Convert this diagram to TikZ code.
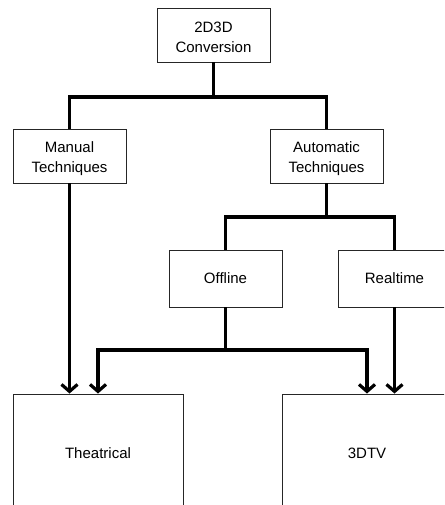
\documentclass[tikz,border=0pt]{standalone}
\usepackage{fontspec}
\setmainfont{Liberation Sans}
\usetikzlibrary{arrows.meta}
\begin{document}
\begin{tikzpicture}[x=1pt,y=-1pt,
  box/.style={draw=black!85, line width=0.9pt, fill=white, inner sep=0pt,
    align=center, font=\fontsize{15}{20}\selectfont},
  small/.style={box, minimum width=113pt, minimum height=54pt},
  mid/.style={box, minimum width=113pt, minimum height=57pt},
  big/.style={box, minimum width=170pt, minimum height=118pt},
  txt/.style={inner sep=0pt, align=center, font=\fontsize{15}{20}\selectfont},
  link/.style={line width=3.6pt, line cap=butt, line join=miter},
  tip/.style={link, -{Straight Barb[length=7pt,width=16pt,line width=3.2pt]}}]
  \useasboundingbox (0,0) rectangle (444,505);
  \clip (0,0) rectangle (444,505);

  % boxes
  \node[small] (conv) at (213.5,35) {};
  \node[small] (manual) at (69.5,156) {};
  \node[small] (auto) at (326.5,156) {};
  \node[mid] (offline) at (225.5,278.5) {Offline};
  \node[mid] (realtime) at (394.5,278.5) {Realtime};
  \node[big] (theatre) at (98,453) {Theatrical};
  \node[big] (tv) at (367,453) {3DTV};

  % two-line captions, set a little below the box centres
  \node[txt] (convtxt) at ([yshift=-2.7pt]conv.center) {2D3D\\Conversion};
  \node[txt] (manualtxt) at ([yshift=-3pt]manual.center) {Manual\\Techniques};
  \node[txt] (autotxt) at ([yshift=-3pt]auto.center) {Automatic\\Techniques};

  % junction points of the tree
  \coordinate (j1) at (213.5,97);
  \coordinate (j2) at (326.5,217);
  \coordinate (j3) at (225.5,350);

  % connectors
  \draw[link] (conv.south) -- (j1) -| (manual.north);
  \draw[link] (j1) -| (auto.north);
  \draw[link] (auto.south) -- (j2) -| (offline.north);
  \draw[link] (j2) -| (realtime.north);
  \draw[link] (offline.south) -- (j3);
  \draw[tip] (j3) -| (theatre.north);
  \draw[tip] (j3) -| (tv.north);
  \draw[tip] (manual.south) -- (manual.south |- theatre.north);
  \draw[tip] (realtime.south) -- (realtime.south |- tv.north);
\end{tikzpicture}
\end{document}
